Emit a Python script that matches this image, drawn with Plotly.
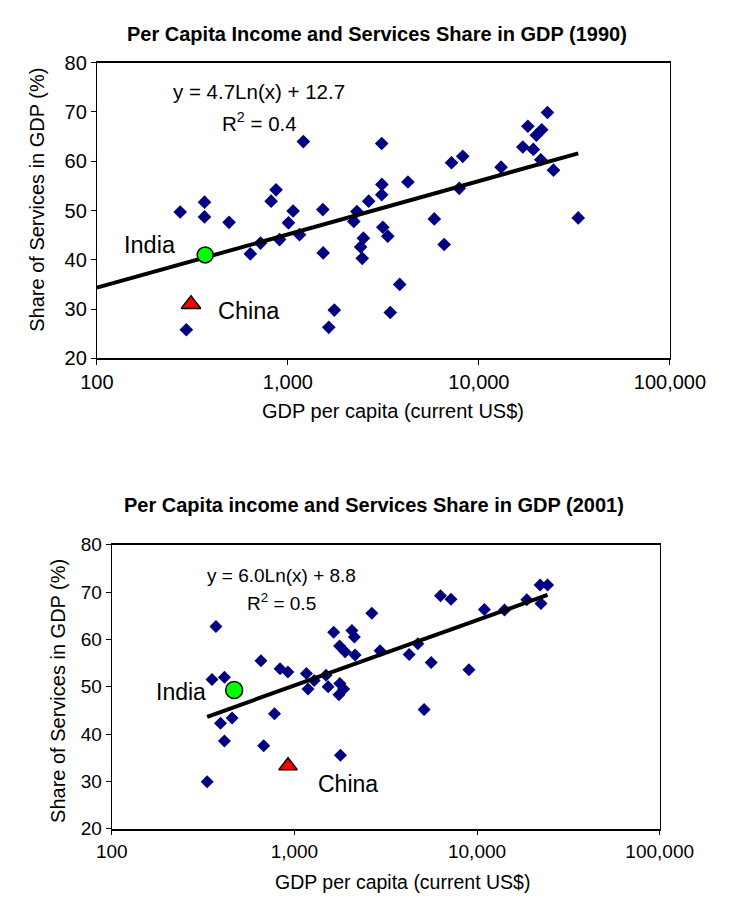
import numpy as np
import plotly.graph_objects as go

# ---- 1990: GDP per capita (current US$) and services share of GDP (%) ----
gdp_1990 = [1205, 3098, 867, 366, 273, 366, 817, 492, 1065, 1007, 1151, 904, 719, 636,
            1524, 1530, 2296, 2213, 2649, 3105, 3098, 2485, 2403, 2450, 3141, 3334, 3849,
            3436, 1750, 1637, 294, 4250, 22850, 18040, 21330, 20000, 16980, 19270, 21080,
            24570, 7190, 8230, 13060, 7890, 5840, 6580, 33110]
svc_1990 = [64.0, 63.6, 54.2, 51.7, 49.7, 48.7, 51.9, 47.6, 49.9, 47.5, 45.1, 44.1, 43.4, 41.2,
            50.2, 41.4, 49.8, 47.8, 51.9, 55.3, 53.2, 44.4, 42.6, 40.3, 46.6, 44.8, 35.0,
            29.3, 29.8, 26.3, 25.8, 55.8, 69.9, 67.1, 66.4, 65.3, 62.9, 62.4, 60.3,
            58.2, 59.7, 61.0, 58.8, 54.5, 48.3, 43.1, 48.5]
india_1990 = (369, 41.0)
china_1990 = (311, 31.0)
fit_1990 = (4.7, 12.7, 0.4)   # slope, intercept, R^2 of y = a*Ln(x) + b

# ---- 2001 ----
gdp_2001 = [372, 354, 414, 656, 835, 921, 1164, 1283, 1187, 1489, 1530, 1775, 1860, 1754,
            1641, 2066, 2130, 2653, 1767, 1895, 2149, 2945, 4250, 778, 394, 456, 414, 679,
            1787, 333, 6310, 7200, 10970, 14130, 18730, 22150, 24320, 22390, 4740, 5610,
            9030, 5130]
svc_2001 = [62.7, 51.5, 52.0, 55.5, 53.8, 53.1, 52.8, 51.3, 49.5, 52.4, 50.0, 50.7, 49.5, 48.3,
            61.5, 61.9, 60.5, 65.5, 58.6, 57.4, 56.7, 57.6, 56.8, 44.3, 42.3, 43.4, 38.5, 37.5,
            35.5, 29.9, 69.2, 68.5, 66.3, 66.2, 68.4, 71.5, 71.5, 67.6, 59.1, 55.1,
            53.6, 45.2]
india_2001 = (468, 49.3)
china_2001 = (923, 33.3)
fit_2001 = (6.0, 8.8, 0.5)

x_tick_vals = [100, 1000, 10000, 100000]
x_tick_text = ["100", "1,000", "10,000", "100,000"]
y_tick_vals = [20, 30, 40, 50, 60, 70, 80]

FONT = "Liberation Sans, Arial, sans-serif"
W, H = 744, 907
NAVY = "#000080"


def px_x(p):
    return p / W


def px_y(p):
    return 1 - p / H


fig = go.Figure()


def add_panel(gdp, svc, india, china, fit, xa, ya, x_start, diamond, dot, tri):
    fig.add_trace(go.Scatter(
        x=gdp, y=svc, mode="markers", xaxis=xa, yaxis=ya,
        marker=dict(symbol="diamond", size=diamond, color=NAVY, line=dict(color=NAVY, width=0)),
        showlegend=False, hoverinfo="skip"))
    a, b, _ = fit
    start = x_start if x_start is not None else min(gdp)
    xs = np.logspace(np.log10(start), np.log10(max(gdp)), 60)
    fig.add_trace(go.Scatter(
        x=xs, y=a * np.log(xs) + b, mode="lines", xaxis=xa, yaxis=ya,
        line=dict(color="black", width=4), showlegend=False, hoverinfo="skip"))
    fig.add_trace(go.Scatter(
        x=[india[0]], y=[india[1]], mode="markers", xaxis=xa, yaxis=ya,
        marker=dict(symbol="circle", size=dot, color="#00FF00", line=dict(color="black", width=1.5)),
        showlegend=False, hoverinfo="skip"))
    fig.add_trace(go.Scatter(
        x=[china[0]], y=[china[1]], mode="markers", xaxis=xa, yaxis=ya,
        marker=dict(symbol="triangle-up", size=tri, color="#FF0000", line=dict(color="black", width=1.5)),
        showlegend=False, hoverinfo="skip"))


add_panel(gdp_1990, svc_1990, india_1990, china_1990, fit_1990, "x", "y", 100, 10.5, 16, 17)
add_panel(gdp_2001, svc_2001, india_2001, china_2001, fit_2001, "x2", "y2", None, 10, 17, 16)

axis_common = dict(showgrid=False, zeroline=False, showline=True, linecolor="black",
                   linewidth=1, mirror=True, ticks="outside", ticklen=5, tickcolor="black")

fig.update_layout(
    width=W, height=H, margin=dict(l=0, r=0, t=0, b=0),
    paper_bgcolor="white", plot_bgcolor="white",
    font=dict(family=FONT, color="black"),
    xaxis=dict(axis_common, type="log", range=[2, 5], domain=[px_x(86), px_x(703)],
               tickvals=x_tick_vals, ticktext=x_tick_text, anchor="y", linewidth=1.5,
               tickfont=dict(size=20)),
    yaxis=dict(axis_common, range=[20, 80], tickvals=y_tick_vals,
               domain=[px_y(356), px_y(53)], anchor="x", tickfont=dict(size=20)),
    xaxis2=dict(axis_common, type="log", range=[2, 5], domain=[px_x(102), px_x(692)],
                tickvals=x_tick_vals, ticktext=x_tick_text, anchor="y2", linewidth=1.5,
                tickfont=dict(size=19)),
    yaxis2=dict(axis_common, range=[20, 80], tickvals=y_tick_vals,
                domain=[px_y(838), px_y(547)], anchor="x2", tickfont=dict(size=19)),
)

annotations = [
    # titles
    dict(text="<b>Per Capita Income and Services Share in GDP (1990)</b>", x=px_x(388), y=px_y(24),
         font=dict(size=20)),
    dict(text="<b>Per Capita income and Services Share in GDP (2001)</b>", x=px_x(384), y=px_y(506),
         font=dict(size=20)),
    # axis titles
    dict(text="GDP per capita (current US$)", x=px_x(405), y=px_y(410), font=dict(size=20)),
    dict(text="GDP per capita (current US$)", x=px_x(415), y=px_y(893), font=dict(size=19.5)),
    dict(text="Share of Services in GDP (%)", x=px_x(22), y=px_y(193), textangle=-90,
         font=dict(size=20)),
    dict(text="Share of Services in GDP (%)", x=px_x(44), y=px_y(697), textangle=-90,
         font=dict(size=20)),
]
for ann in annotations:
    ann.update(xref="paper", yref="paper", showarrow=False, xanchor="center", yanchor="middle")

# labels inside the plots, in data coordinates (log10 for the log x axes)
inner = [
    dict(text="y = %.1fLn(x) + %.1f" % fit_1990[:2], x=2.849, y=74.1, xref="x", yref="y", size=20.5),
    dict(text="R<sup>2</sup> = %.1f" % fit_1990[2], x=2.849, y=67.9, xref="x", yref="y", size=20.5),
    dict(text="India", x=2.277, y=43.0, xref="x", yref="y", size=23.5),
    dict(text="China", x=2.797, y=29.7, xref="x", yref="y", size=23.5),
    dict(text="y = %.1fLn(x) + %.1f" % fit_2001[:2], x=2.930, y=73.4, xref="x2", yref="y2", size=19),
    dict(text="R<sup>2</sup> = %.1f" % fit_2001[2], x=2.930, y=67.8, xref="x2", yref="y2", size=19),
    dict(text="India", x=2.380, y=48.8, xref="x2", yref="y2", size=23),
    dict(text="China", x=3.296, y=29.5, xref="x2", yref="y2", size=23),
]
for item in inner:
    size = item.pop("size")
    annotations.append(dict(item, showarrow=False, xanchor="center", yanchor="middle",
                            font=dict(size=size)))

fig.update_layout(annotations=annotations)
fig.write_html("out.html")
